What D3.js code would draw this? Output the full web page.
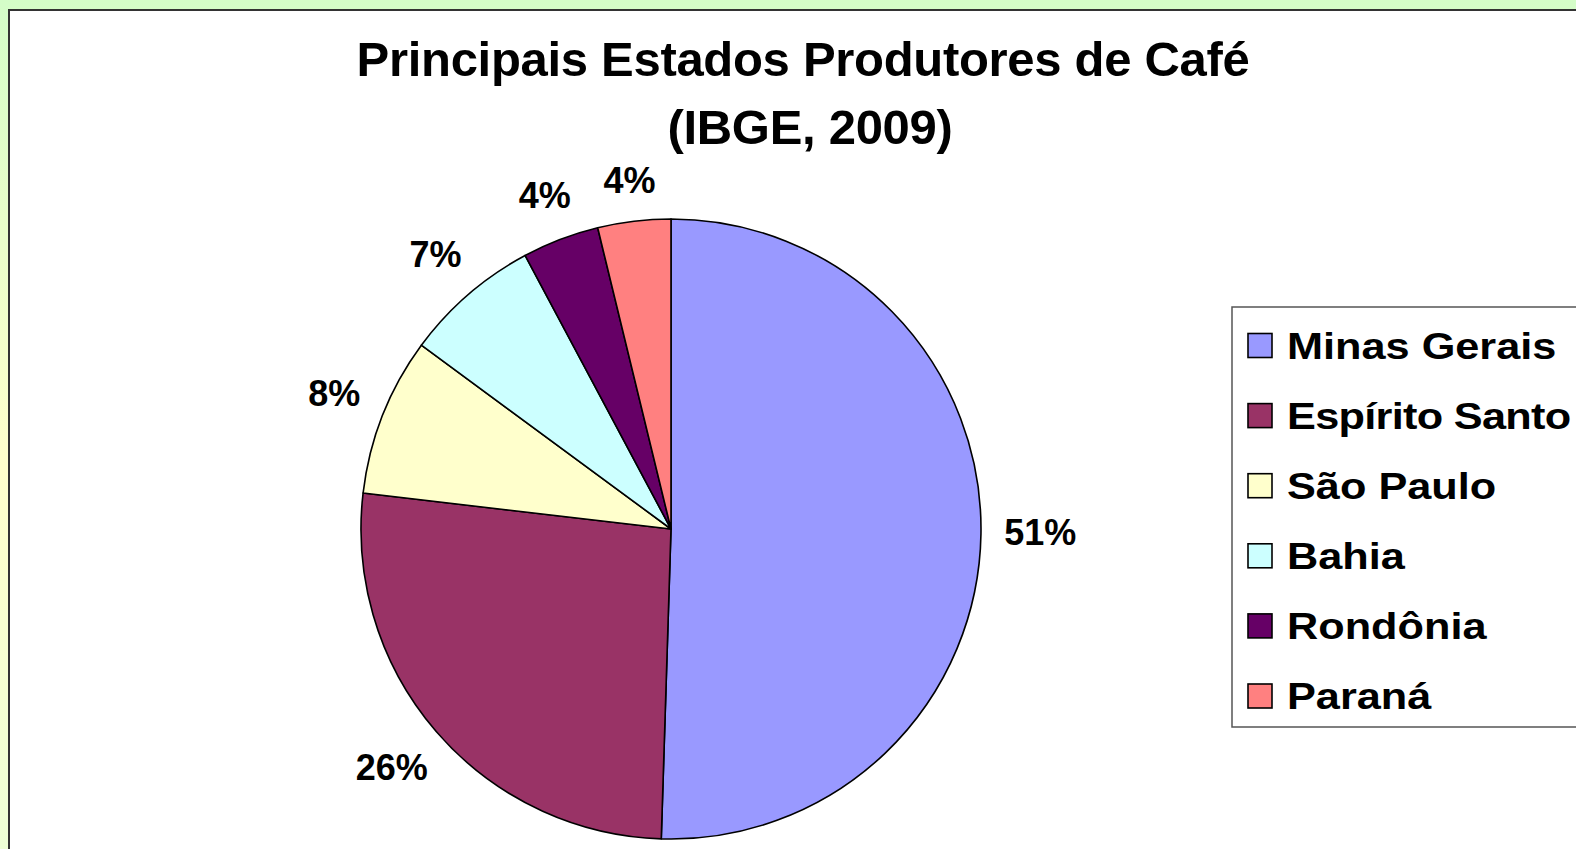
<!DOCTYPE html>
<html>
<head>
  <meta charset="UTF-8">
  <style>
body {
    margin: 0;
    overflow: hidden;
}
svg text {
    font-family: 'Liberation Sans', Arial, sans-serif;
    font-weight: bold;
    fill: #000;
}
  </style>
</head>
<body>
<svg id="chart"></svg>

<script src="https://d3js.org/d3.v7.min.js"></script>
<script>

// data
let estados = ["Minas Gerais", "Espírito Santo", "São Paulo", "Bahia", "Rondônia", "Paraná"];
let producao = [50.5, 26.35, 8.25, 7.1, 4.0, 3.8];   // share of production, %
let rotulos = ["51%", "26%", "8%", "7%", "4%", "4%"];
let cores = ["#9999ff", "#993366", "#ffffcc", "#ccffff", "#660066", "#ff8080"];
let titulo = ["Principais Estados Produtores de Café", "(IBGE, 2009)"];

let width = 1576, height = 849;

let svg = d3.select("#chart")
    .attr("width", width)
    .attr("height", height);

// background gradient (green -> yellow -> pale green)
let grad = svg.append("defs").append("linearGradient")
    .attr("id", "bg")
    .attr("x1", 0).attr("y1", 0).attr("x2", 0).attr("y2", 1);
grad.append("stop").attr("offset", "0%").attr("stop-color", "#d4fdc8");
grad.append("stop").attr("offset", "55%").attr("stop-color", "#ffffcc");
grad.append("stop").attr("offset", "100%").attr("stop-color", "#eeffd6");

svg.append("rect")
    .attr("width", width)
    .attr("height", height)
    .attr("fill", "url(#bg)");

// white chart area
svg.append("rect")
    .attr("x", 9)
    .attr("y", 10)
    .attr("width", width + 20)
    .attr("height", height + 20)
    .attr("fill", "#fff")
    .attr("stroke", "#333")
    .attr("stroke-width", 2);

// title
svg.selectAll(".titulo")
    .data(titulo)
    .enter()
    .append("text")
    .attr("class", "titulo")
    .attr("x", (d, i) => i ? 810 : 803)
    .attr("y", (d, i) => 76 + i * 68)
    .attr("text-anchor", "middle")
    .style("font-size", "49px")
    .style("letter-spacing", "-0.3px")
    .text(d => d);

// pie
let cx = 671, cy = 529, r = 310;

let pie = d3.pie().sort(null).value(d => d);
let arc = d3.arc().innerRadius(0).outerRadius(r);
let arcs = pie(producao);

let g = svg.append("g").attr("transform", "translate(" + cx + "," + cy + ")");

g.selectAll("path")
    .data(arcs)
    .enter()
    .append("path")
    .attr("d", arc)
    .attr("fill", (d, i) => cores[i])
    .attr("stroke", "#000")
    .attr("stroke-width", 1.6)
    .attr("stroke-linejoin", "round");

// percentage labels outside the slices, box kept a fixed gap from the rim
let gap = 23;

g.selectAll(".pct")
    .data(arcs)
    .enter()
    .append("text")
    .attr("class", "pct")
    .attr("text-anchor", "middle")
    .attr("dy", "0.28em")
    .style("font-size", "36px")
    .text((d, i) => rotulos[i])
    .each(function(d) {
        let b = this.getBBox();
        let a = (d.startAngle + d.endAngle) / 2;
        let s = Math.sin(a), c = Math.cos(a);
        let dist = r + gap + Math.abs(s) * b.width / 2 + Math.abs(c) * 13;
        d3.select(this).attr("transform", "translate(" + (s * dist) + "," + (-c * dist) + ")");
    });

// legend (runs off the right edge like the original)
let leg = svg.append("g");

leg.append("rect")
    .attr("x", 1232)
    .attr("y", 307)
    .attr("width", 400)
    .attr("height", 420)
    .attr("fill", "#fff")
    .attr("stroke", "#555")
    .attr("stroke-width", 1.5);

let linha = d3.scalePoint()
    .domain(estados)
    .range([345.5, 696]);

leg.selectAll(".sq")
    .data(estados)
    .enter()
    .append("rect")
    .attr("class", "sq")
    .attr("x", 1248)
    .attr("y", d => linha(d) - 12)
    .attr("width", 24)
    .attr("height", 24)
    .attr("fill", (d, i) => cores[i])
    .attr("stroke", "#000")
    .attr("stroke-width", 1.6);

leg.selectAll(".nome")
    .data(estados)
    .enter()
    .append("text")
    .attr("class", "nome")
    .attr("transform", d => "translate(1287," + (linha(d) + 13) + ") scale(1.17,1)")
    .style("font-size", "37px")
    .style("letter-spacing", (d, i) => i === 1 ? "-0.6px" : "0px")
    .text(d => d);

</script>
</body>
</html>
